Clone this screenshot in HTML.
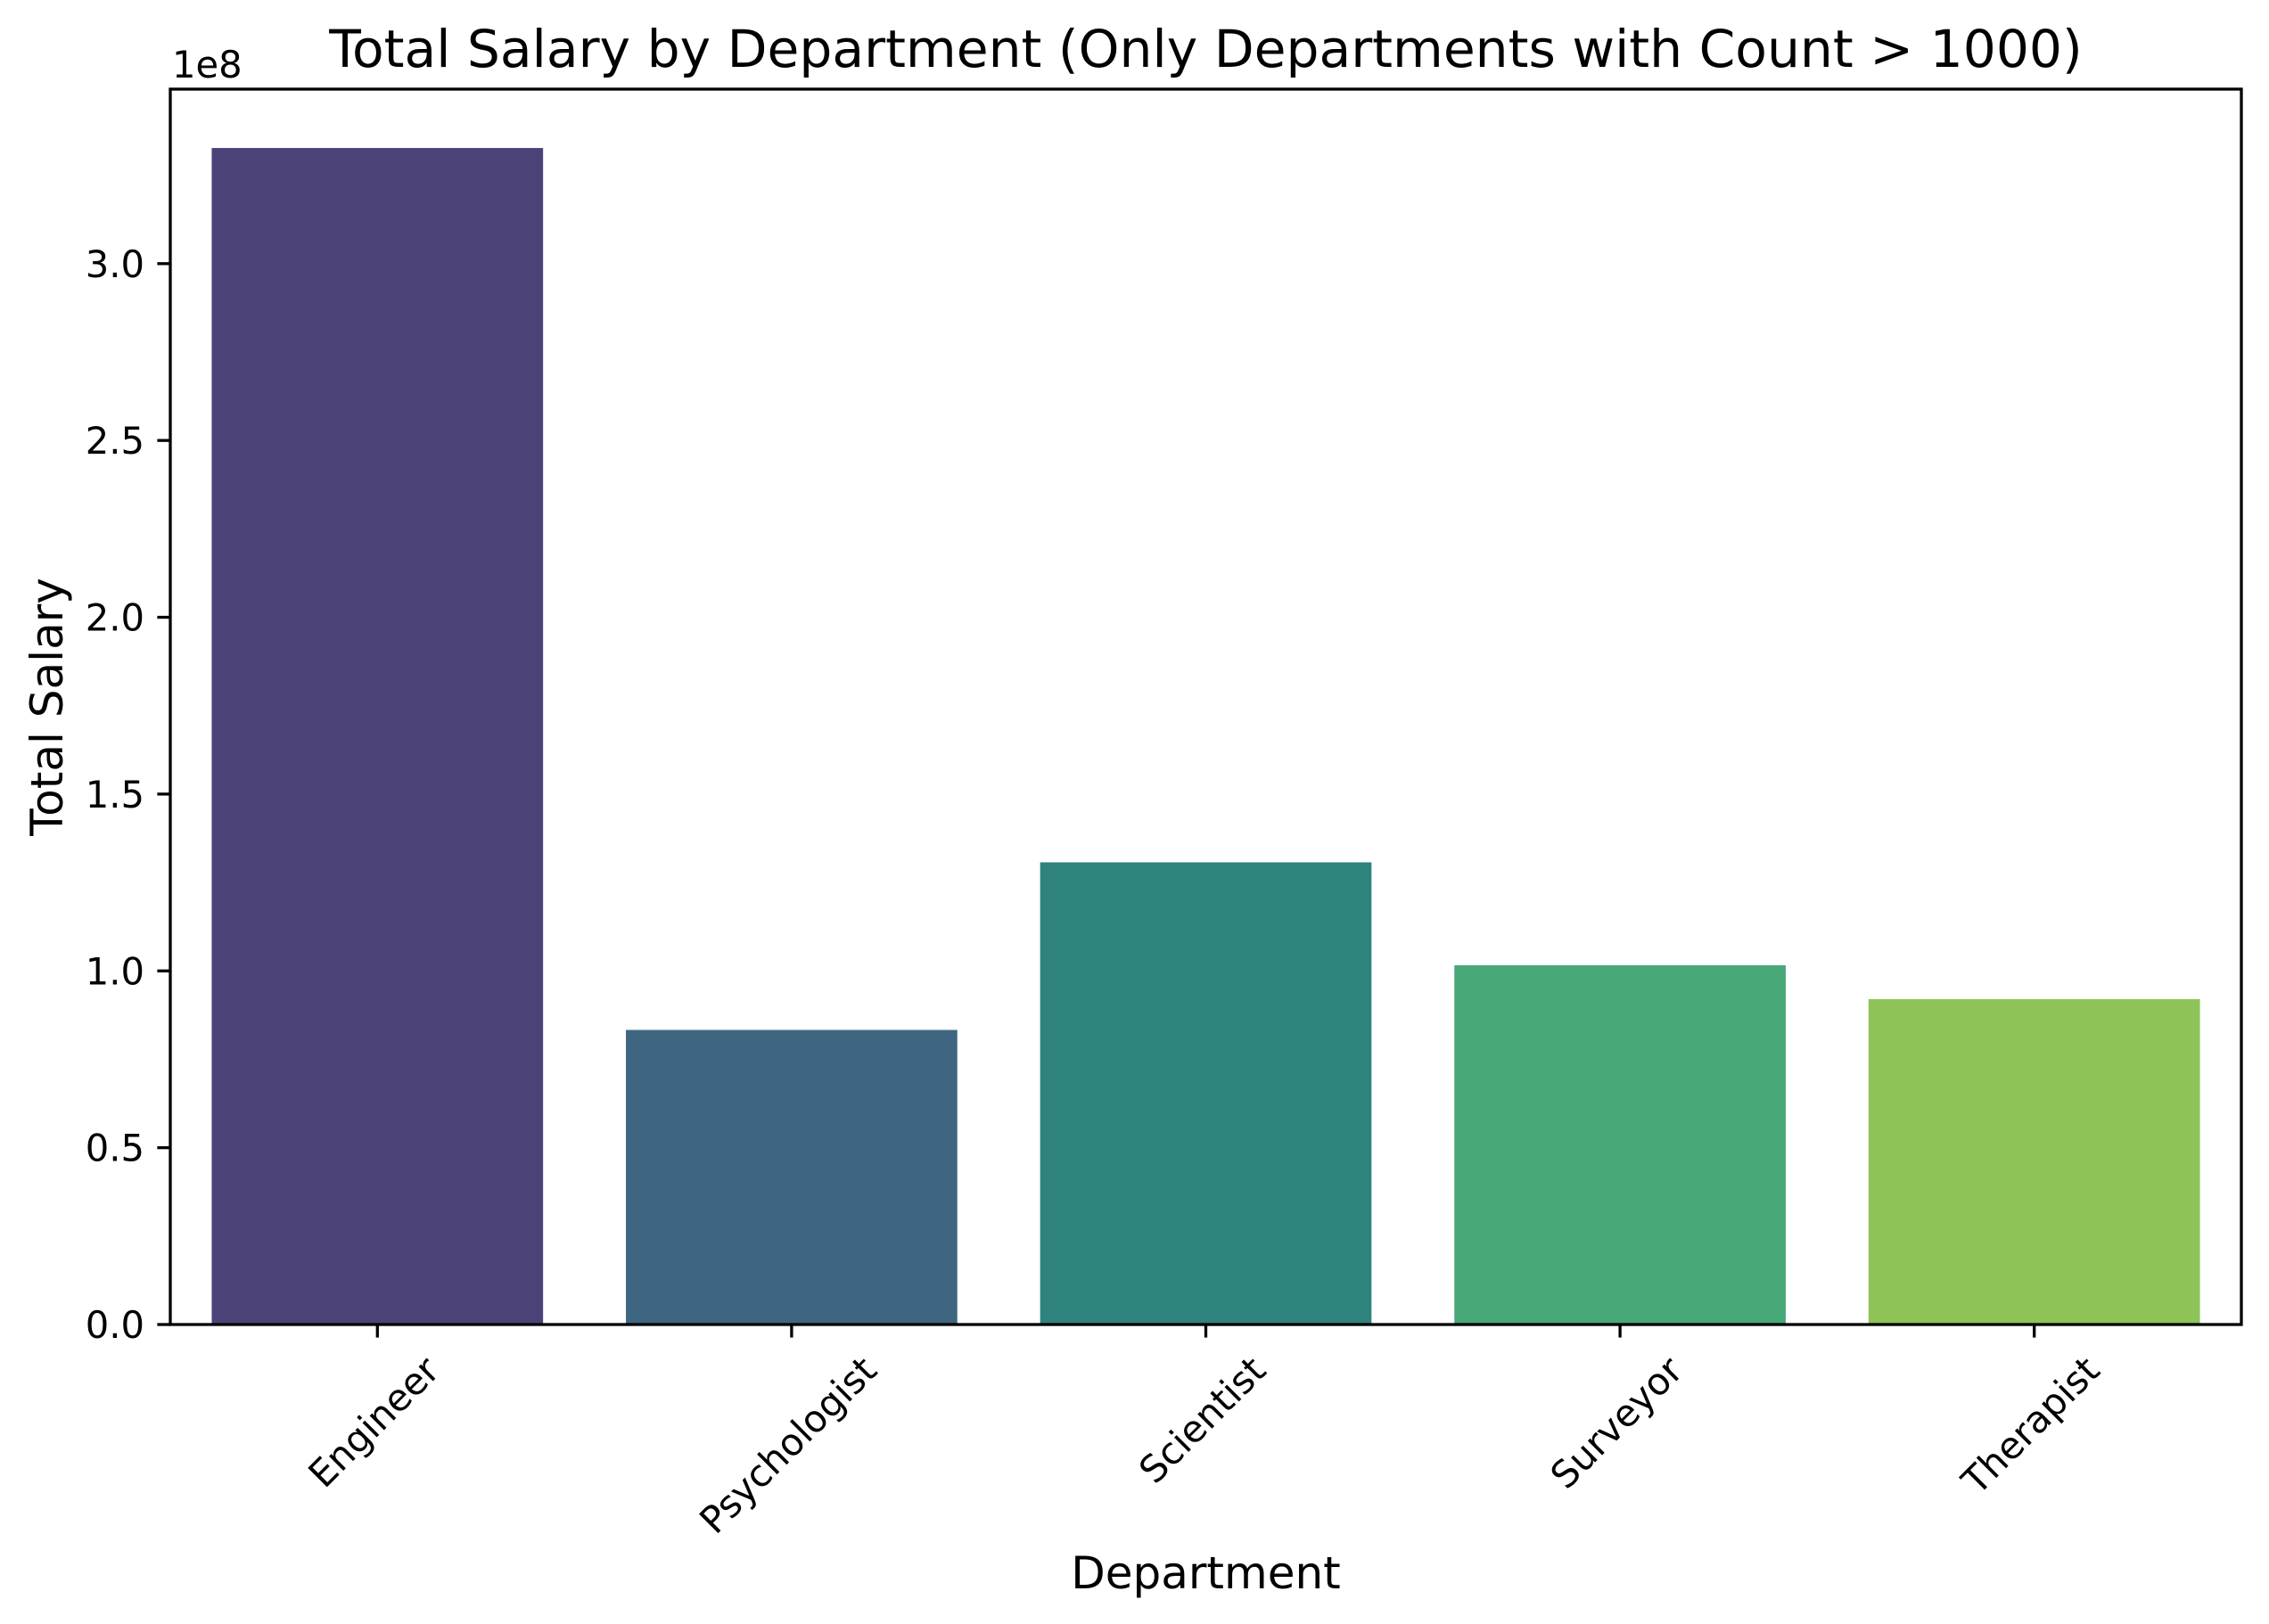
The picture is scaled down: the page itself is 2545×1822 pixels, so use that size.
<!DOCTYPE html>
<html><head><meta charset="utf-8"><style>
html,body{margin:0;padding:0;background:#fff}
svg{display:block}
text{font-family:"DejaVu Sans","Liberation Sans",sans-serif;fill:#000}
</style></head><body>
<svg id="chart" width="2545" height="1822" viewBox="0 0 2545 1822">
<rect width="2545" height="1822" fill="#fff"/>
<g id="bars"></g>
<g id="axes"></g>
</svg>
<script>
const categories = ["Engineer","Psychologist","Scientist","Surveyor","Therapist"];
const values = [3.327e8, 0.833e8, 1.307e8, 1.016e8, 0.920e8];
const yTicks = [0, 0.5e8, 1.0e8, 1.5e8, 2.0e8, 2.5e8, 3.0e8];
const yTickLabels = ["0.0","0.5","1.0","1.5","2.0","2.5","3.0"];
const colors = ["#4b4378","#3f6680","#2e837d","#48a878","#8dc357"];

const NS = "http://www.w3.org/2000/svg";
const L = 191, R = 2514, T = 100, B = 1486;
const yMax = 3.4935e8;
function y(v){ return B - v / yMax * (B - T); }
function x(i){ return L + (i + 0.5) / categories.length * (R - L); }
const slot = (R - L) / categories.length;
function el(tag, attrs, parent){ const e = document.createElementNS(NS, tag); for (const k in attrs) e.setAttribute(k, attrs[k]); parent.appendChild(e); return e; }

const bars = document.getElementById("bars");
const axes = document.getElementById("axes");
categories.forEach((c, i) => {
  const w = slot * 0.8;
  const r = el("rect", {x: x(i) - w/2, y: y(values[i]), width: w, height: B - y(values[i]), fill: colors[i]}, bars);
  
  
  const t = el("line", {x1: x(i), x2: x(i), y1: B, y2: B + 14.6, stroke: "#000", "stroke-width": 3.3}, axes);
  
  
  const lab = el("text", {"font-size": 41.7, "text-anchor": "middle", "dominant-baseline": "central"}, axes);
  lab.textContent = c;
  
  
  const tw = lab.getComputedTextLength();
  const half = (tw + 41.7) / 2 * 0.7071;
  const cx = x(i) - 4, cy = 1515 + half;
  lab.setAttribute("x", cx); lab.setAttribute("y", cy);
  lab.setAttribute("transform", "rotate(-45 " + cx + " " + cy + ")");
});
yTicks.forEach((v, i) => {
  const t = el("line", {x1: L - 14.6, x2: L, y1: y(v), y2: y(v), stroke: "#000", "stroke-width": 3.3}, axes);
  
  
  const lab = el("text", {x: L - 29, y: y(v) + 15, "font-size": 41.7, "text-anchor": "end"}, axes);
  lab.textContent = yTickLabels[i];
  
  
});
const frame = el("rect", {x: L, y: T, width: R - L, height: B - T, fill: "none", stroke: "#000", "stroke-width": 3.3}, axes);


const off = el("text", {x: 193, y: 87, "font-size": 41.7}, axes);
off.textContent = "1e8";


const title = el("text", {x: (L + R) / 2, y: 75, "font-size": 58.3, "text-anchor": "middle"}, axes);
title.textContent = "Total Salary by Department (Only Departments with Count > 1000)";


const xl = el("text", {x: (L + R) / 2, y: 1782, "font-size": 50, "text-anchor": "middle"}, axes);
xl.textContent = "Department";


const yl = el("text", {x: 0, y: 0, "font-size": 50, "text-anchor": "middle", transform: "translate(70 793) rotate(-90)"}, axes);
yl.textContent = "Total Salary";


</script>
</body></html>
